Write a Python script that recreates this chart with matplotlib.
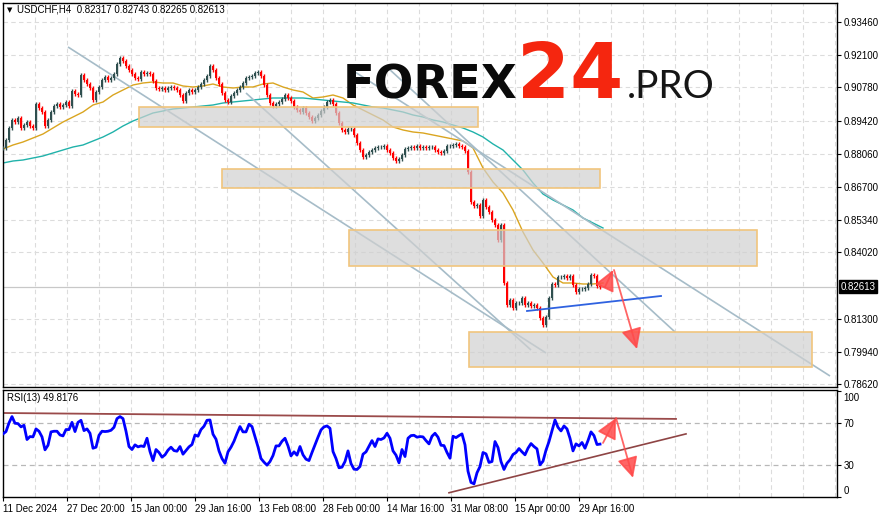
import numpy as np
import matplotlib
matplotlib.use('Agg')
import matplotlib.pyplot as plt
from matplotlib.patches import Rectangle
from matplotlib.transforms import ScaledTranslation, blended_transform_factory

W, H = 883, 518

# ---------------- data ----------------
# H4 closes, one value per 3 bars
closes = [
    0.88294, 0.88622, 0.89114, 0.89442, 0.89360, 0.89524, 0.89114, 0.89237, 0.89360, 0.89196,
    0.89114, 0.90098, 0.89934, 0.89770, 0.89196, 0.89442, 0.89770, 0.90016, 0.90098, 0.89975,
    0.90057, 0.90180, 0.90016, 0.90631, 0.90508, 0.90467, 0.91287, 0.91082, 0.90918, 0.90754,
    0.90262, 0.90590, 0.90795, 0.91082, 0.91205, 0.91082, 0.91164, 0.91328, 0.91738, 0.91984,
    0.91861, 0.91656, 0.91492, 0.91328, 0.91164, 0.91123, 0.91410, 0.91328, 0.91369, 0.91328,
    0.91041, 0.90754, 0.90713, 0.90754, 0.90672, 0.90754, 0.90795, 0.90754, 0.90672, 0.90467,
    0.90221, 0.90549, 0.90672, 0.90590, 0.90672, 0.90795, 0.90918, 0.91082, 0.91246, 0.91656,
    0.91492, 0.91164, 0.90918, 0.90549, 0.90262, 0.90180, 0.90426, 0.90549, 0.90672, 0.90795,
    0.90959, 0.91164, 0.91205, 0.91246, 0.91369, 0.91410, 0.91246, 0.90877, 0.90467, 0.90139,
    0.90016, 0.90098, 0.90180, 0.90303, 0.90467, 0.90344, 0.90221, 0.89975, 0.89852, 0.89770,
    0.89934, 0.89729, 0.89565, 0.89401, 0.89524, 0.89647, 0.89811, 0.89975, 0.90180, 0.90262,
    0.90098, 0.89729, 0.89319, 0.89032, 0.88950, 0.89073, 0.89073, 0.88827, 0.88499, 0.88212,
    0.87925, 0.88007, 0.88130, 0.88212, 0.88294, 0.88335, 0.88335, 0.88376, 0.88212, 0.88089,
    0.87884, 0.87761, 0.87843, 0.88007, 0.88253, 0.88294, 0.88335, 0.88294, 0.88376, 0.88294,
    0.88335, 0.88294, 0.88335, 0.88335, 0.88212, 0.88130, 0.88089, 0.88171, 0.88376, 0.88376,
    0.88417, 0.88458, 0.88376, 0.88335, 0.88171, 0.87310, 0.86080, 0.85916, 0.85957, 0.85506,
    0.86162, 0.85875, 0.85670, 0.85342, 0.85137, 0.84522, 0.85137, 0.82759, 0.81857, 0.82062,
    0.81734, 0.81939, 0.81939, 0.82144, 0.81857, 0.81939, 0.81816, 0.81857, 0.81734, 0.81324,
    0.81037, 0.81365, 0.82144, 0.82718, 0.82677, 0.83005, 0.83005, 0.83046, 0.82964, 0.83046,
    0.82677, 0.82390, 0.82513, 0.82513, 0.82554, 0.82718, 0.83087, 0.83046, 0.82636, 0.82613,
]

# moving averages, one value per 10 bars
ma_fast = [
    0.88253, 0.88417, 0.88540, 0.88704, 0.88868, 0.89114, 0.89360, 0.89565, 0.89770, 0.90057,
    0.90180, 0.90467, 0.90672, 0.90877, 0.90959, 0.91000, 0.90959, 0.90959, 0.90836, 0.90795,
    0.90836, 0.90918, 0.90795, 0.90754, 0.90795, 0.90795, 0.90918, 0.90959, 0.90795, 0.90672,
    0.90590, 0.90344, 0.90385, 0.90467, 0.90344, 0.90057, 0.89852, 0.89647, 0.89442, 0.89155,
    0.89032, 0.88950, 0.88909, 0.88827, 0.88745, 0.88663, 0.88581, 0.88294, 0.87474, 0.86900,
    0.86449, 0.85752, 0.84850, 0.84112, 0.83579, 0.83005, 0.82759, 0.82759, 0.82718, 0.82718,
    0.82759,
]
ma_slow = [
    0.87679, 0.87761, 0.87802, 0.87884, 0.87966, 0.88089, 0.88212, 0.88335, 0.88417, 0.88581,
    0.88745, 0.88950, 0.89196, 0.89401, 0.89565, 0.89729, 0.89811, 0.89893, 0.89934, 0.89975,
    0.90016, 0.90057, 0.90139, 0.90180, 0.90221, 0.90262, 0.90303, 0.90344, 0.90344, 0.90344,
    0.90344, 0.90303, 0.90262, 0.90221, 0.90180, 0.90139, 0.90057, 0.89975, 0.89934, 0.89852,
    0.89770, 0.89647, 0.89565, 0.89442, 0.89360, 0.89237, 0.89114, 0.88950, 0.88745, 0.88458,
    0.88212, 0.87802, 0.87392, 0.86859, 0.86408, 0.86162, 0.85957, 0.85752, 0.85424, 0.85219,
    0.85014,
]

# RSI(13), one value per 3 bars
rsi = [
    59.4, 61.6, 69.7, 75.7, 69.4, 69.1, 66.0, 67.5, 54.1, 56.9,
    56.6, 64.1, 61.9, 56.6, 44.4, 48.7, 61.3, 61.9, 61.9, 58.4,
    57.5, 63.5, 63.5, 70.3, 61.6, 70.3, 72.2, 62.5, 64.1, 60.0,
    45.9, 46.9, 58.1, 61.9, 61.6, 61.9, 62.8, 65.6, 73.8, 75.7,
    73.8, 61.9, 47.5, 44.7, 49.1, 47.2, 48.1, 47.5, 55.3, 42.8,
    34.3, 44.7, 41.9, 37.5, 39.7, 44.1, 46.9, 43.7, 43.1, 47.5,
    40.3, 43.7, 47.2, 49.4, 58.4, 57.2, 63.5, 66.6, 72.2, 72.5,
    59.1, 54.4, 43.4, 36.2, 31.8, 42.5, 46.9, 52.5, 59.7, 66.3,
    61.3, 61.3, 68.5, 66.3, 56.9, 47.2, 36.2, 32.8, 30.0, 33.4,
    39.0, 48.1, 48.1, 52.5, 55.3, 48.1, 38.7, 42.5, 39.4, 47.5,
    39.7, 35.6, 34.3, 41.9, 49.1, 56.3, 63.1, 66.0, 66.9, 64.7,
    42.8, 36.2, 27.5, 28.1, 33.4, 43.4, 31.5, 26.2, 25.9, 28.7,
    40.3, 42.5, 47.8, 53.1, 47.5, 54.7, 54.1, 55.6, 60.0, 55.3,
    43.4, 39.4, 32.2, 44.7, 38.1, 55.3, 57.8, 58.1, 56.3, 56.9,
    56.6, 53.1, 50.0, 57.2, 60.0, 56.3,
    48.7, 48.4, 41.9, 36.5, 57.2, 55.9, 57.8, 59.4, 49.1, 24.3,
    13.7, 12.4, 22.8, 28.7, 41.9, 40.6, 32.5, 33.4, 52.2, 46.6,
    33.4, 25.9, 31.8, 35.0, 40.0, 41.9, 45.6, 42.5, 39.7, 45.9,
    50.3, 47.5, 45.3, 30.3, 33.7, 44.1, 52.2, 62.2, 72.5, 65.6,
    62.2, 66.9, 64.1, 55.3, 43.4, 50.0, 48.1, 51.3, 45.9, 53.1,
    61.3, 57.8, 49.4, 49.8,
]

price_ticks = [0.93460, 0.92100, 0.90780, 0.89420, 0.88060, 0.86700,
               0.85340, 0.84020, 0.81300, 0.79940, 0.78620]
last_price = 0.82613
date_ticks = [0, 64, 128, 192, 256, 320, 384, 448, 512, 576]
date_labels = ["11 Dec 2024", "27 Dec 20:00", "15 Jan 00:00", "29 Jan 16:00",
               "13 Feb 08:00", "28 Feb 00:00", "14 Mar 16:00", "31 Mar 08:00",
               "15 Apr 00:00", "29 Apr 16:00"]
title = "USDCHF,H4  0.82317 0.82743 0.82265 0.82613"
rsi_title = "RSI(13) 49.8176"

# analysis drawings (bar index, price)
zones = [(136, 475, 0.89155, 0.89975), (219, 597, 0.86654, 0.87433),
         (346, 754, 0.83456, 0.84932), (466, 809, 0.79315, 0.80750)]
channel_lines = [((65, 0.92435), (543, 0.79889)), ((243, 0.90549), (528, 0.80012)),
                 ((352, 0.91410), (827, 0.78946)), ((385, 0.91574), (672, 0.80750))]
support_line = ((524, 0.81611), (658, 0.82226))
price_arrows = [((602, 0.82595), (610, 0.83292)), ((611, 0.83292), (634, 0.80053))]
rsi_lines = [((-3, 79.1), (673, 73.5)), ((446, 4.0), (683, 59.4))]
rsi_arrows = [((600, 50.9), (613, 74.4)), ((613, 74.4), (630, 18.1))]

# ---------------- figure ----------------
FONT = ['Liberation Sans', 'DejaVu Sans']
plt.rcParams['font.family'] = FONT
fig = plt.figure(figsize=(W / 100, H / 100), dpi=100)
fig.patch.set_facecolor('white')

def px_rect(x0, y0, x1, y1):
    return [x0 / W, 1 - y1 / H, (x1 - x0) / W, (y1 - y0) / H]

ax = fig.add_axes(px_rect(3, 3, 837, 386.5))
axr = fig.add_axes(px_rect(3, 389.5, 837, 497))
XMAX = 834
GRID = dict(color='#dcdcdc', lw=0.8, linestyle=(0, (4, 3)), zorder=0)

# --- main panel ---
ax.set_xlim(0, XMAX)
ax.set_ylim(0.78515, 0.94239)
for b in range(32, XMAX, 32):
    ax.axvline(b, **GRID)
for p in price_ticks:
    ax.axhline(p, **GRID)
ax.axhline(last_price, color='#c8c8c8', lw=0.9, zorder=1)

c = np.array(closes)
o = np.concatenate([[c[0]], c[:-1]])
xb = 3 * np.arange(len(c))
wick = 0.0009
hi = np.maximum(o, c) + wick
lo = np.minimum(o, c) - wick
up = c >= o
col = np.where(up, '#2f4f4f', '#ff0000')
ax.vlines(xb, lo, hi, colors=col, lw=1.0, zorder=3)
body = np.maximum(np.abs(c - o), 0.00015)
ax.bar(xb, body, bottom=np.minimum(o, c), width=2.4, color=col, linewidth=0, zorder=3)

ax.plot(10 * np.arange(len(ma_fast)), ma_fast, color='#daa520', lw=1.0, zorder=2.5)
ax.plot(10 * np.arange(len(ma_slow)), ma_slow, color='#20b2aa', lw=1.0, zorder=2.5)

for (b0, p0), (b1, p1) in channel_lines:
    ax.plot([b0, b1], [p0, p1], color='#a6bcc8', lw=1.2, zorder=2.6, solid_capstyle='butt')

for b0, b1, p0, p1 in zones:
    ax.add_patch(Rectangle((b0, p0), b1 - b0, p1 - p0, facecolor='#d0d0d0',
                           alpha=0.7, edgecolor='none', zorder=4))
    ax.add_patch(Rectangle((b0, p0), b1 - b0, p1 - p0, facecolor='none',
                           edgecolor='#f1c57d', lw=1.2, zorder=4.5))

(sb0, sp0), (sb1, sp1) = support_line
ax.plot([sb0, sb1], [sp0, sp1], color='#2f62e0', lw=1.3, zorder=5)

def arrow(a, tail, head):
    a.annotate('', xy=head, xytext=tail,
               arrowprops=dict(arrowstyle='-|>,head_length=0.9,head_width=0.45',
                               color='#ff4a4a', lw=1.3, alpha=0.85,
                               shrinkA=0, shrinkB=0, mutation_scale=14), zorder=6)

for t, h in price_arrows:
    arrow(ax, t, h)

ax.yaxis.tick_right()
ax.set_yticks(price_ticks)
ax.set_yticklabels([f"{p:.5f}" for p in price_ticks])
ax.tick_params(axis='y', direction='out', length=3, width=0.8, labelsize=7, pad=1.5)
ax.set_xticks([])
for s in ax.spines.values():
    s.set_color('black'); s.set_linewidth(1.0)

trans = blended_transform_factory(ax.transAxes, ax.transData)
ax.text(1.0045, last_price, f"{last_price:.5f}", transform=trans, color='white',
        fontsize=7, va='center', ha='left', zorder=10, clip_on=False,
        bbox=dict(boxstyle='square,pad=0.15', facecolor='black', edgecolor='black'))

# --- RSI panel ---
axr.set_xlim(0, XMAX)
axr.set_ylim(0.2, 101.2)
for b in range(32, XMAX, 32):
    axr.axvline(b, **GRID)
for lv in (70, 30):
    axr.axhline(lv, color='#b8b8b8', lw=0.9, linestyle=(0, (4, 3)), zorder=0)

(r0, r1) = rsi_lines
axr.plot([r0[0][0], r0[1][0]], [r0[0][1], r0[1][1]], color='#9a4a4a', lw=1.3, zorder=2)
axr.plot([r1[0][0], r1[1][0]], [r1[0][1], r1[1][1]], color='#8e4444', lw=1.2, zorder=2)
axr.plot(3 * np.arange(len(rsi)), rsi, color='#0000ff', lw=2.0, zorder=3)
for t, h in rsi_arrows:
    arrow(axr, t, h)

axr.yaxis.tick_right()
axr.set_yticks([100, 70, 30, 0])
axr.set_yticklabels(['100', '70', '30', '0'])
axr.tick_params(axis='y', direction='out', length=3, width=0.8, labelsize=7, pad=1.5)
labs = axr.get_yticklabels()
labs[0].set_transform(labs[0].get_transform() + ScaledTranslation(0, -0.06, fig.dpi_scale_trans))
labs[3].set_transform(labs[3].get_transform() + ScaledTranslation(0, 0.07, fig.dpi_scale_trans))
axr.set_xticks(date_ticks)
axr.set_xticklabels(date_labels)
axr.tick_params(axis='x', direction='out', length=3, width=0.8, labelsize=7, pad=2)
for lbl in axr.get_xticklabels():
    lbl.set_ha('left')
for s in axr.spines.values():
    s.set_color('black'); s.set_linewidth(1.0)

# --- texts ---
fig.text(7 / W, 1 - 10.5 / H, '\u25BC', fontsize=5, family='DejaVu Sans', va='center', ha='left')
fig.text(17 / W, 1 - 10 / H, title, fontsize=7, va='center', ha='left')
fig.text(7 / W, 1 - 398 / H, rsi_title, fontsize=7, va='center', ha='left')

fig.text(343 / W, 1 - 98 / H, 'FOREX', fontsize=33.5, fontweight='bold', family='DejaVu Sans',
         fontstyle='normal', color='#0a0a0a', va='baseline', ha='left', zorder=20)
fig.text(517 / W, 1 - 98 / H, '24', fontsize=55, fontweight='bold', family='DejaVu Sans',
         fontstyle='normal', color='#f5260f', va='baseline', ha='left', zorder=20)
fig.text(627 / W, 1 - 98 / H, '.PRO', fontsize=28, fontweight='normal', family='Lato',
         fontstyle='normal', color='#151515', va='baseline', ha='left', zorder=20)

fig.savefig('out.png', dpi=100)
